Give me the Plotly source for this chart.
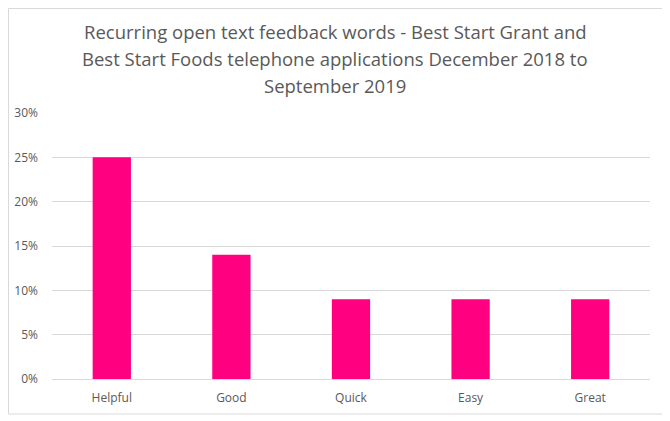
import plotly.graph_objects as go

words = ['Helpful', 'Good', 'Quick', 'Easy', 'Great']
share = [0.25, 0.14, 0.09, 0.09, 0.09]

title_lines = ['Recurring open text feedback words - Best Start Grant and',
               'Best Start Foods telephone applications December 2018 to',
               'September 2019']

# page is shown with the browser's 8px body margin, so size the figure to fit
W, H = 662, 413
L, R, T, B = 44, 20, 105, 42
pw, ph = W - L - R, H - T - B

fig = go.Figure()
fig.add_trace(go.Bar(
    x=words,
    y=share,
    marker=dict(color='#FF0080', line=dict(width=0)),
    width=0.32,
))

fig.update_layout(
    width=W, height=H,
    margin=dict(l=L, r=R, t=T, b=B),
    paper_bgcolor='white',
    plot_bgcolor='white',
    font=dict(family='Open Sans, sans-serif', color='#595959', size=12),
    showlegend=False,
)

# three title lines, spaced like the original
for i, line in enumerate(title_lines):
    fy = 23.5 + 27 * i
    fig.add_annotation(text=line, xref='paper', yref='paper',
                       x=(327 - L) / pw, y=1 + (T - fy) / ph,
                       xanchor='center', yanchor='middle', showarrow=False,
                       font=dict(size=18.5, color='#595959', family='Open Sans, sans-serif'))

fig.update_yaxes(range=[0, 0.30], dtick=0.05, tickformat='.0%', gridcolor='#d9d9d9',
                 zeroline=False, showline=False, ticks='', ticklabelstandoff=13,
                 automargin=False, tickfont=dict(size=12, color='#595959'))
fig.update_xaxes(showline=True, linecolor='#d9d9d9', linewidth=1, ticks='',
                 ticklabelstandoff=8, automargin=False,
                 tickfont=dict(size=12, color='#595959'))

# outer border of the chart area
fig.add_shape(type='rect', xref='paper', yref='paper',
              x0=(0.5 - L) / pw, x1=(656 - L) / pw,
              y0=(T + ph - 406) / ph, y1=1 + (T - 0.5) / ph,
              line=dict(color='#d9d9d9', width=1), fillcolor='rgba(0,0,0,0)')

fig.write_html('out.html')
